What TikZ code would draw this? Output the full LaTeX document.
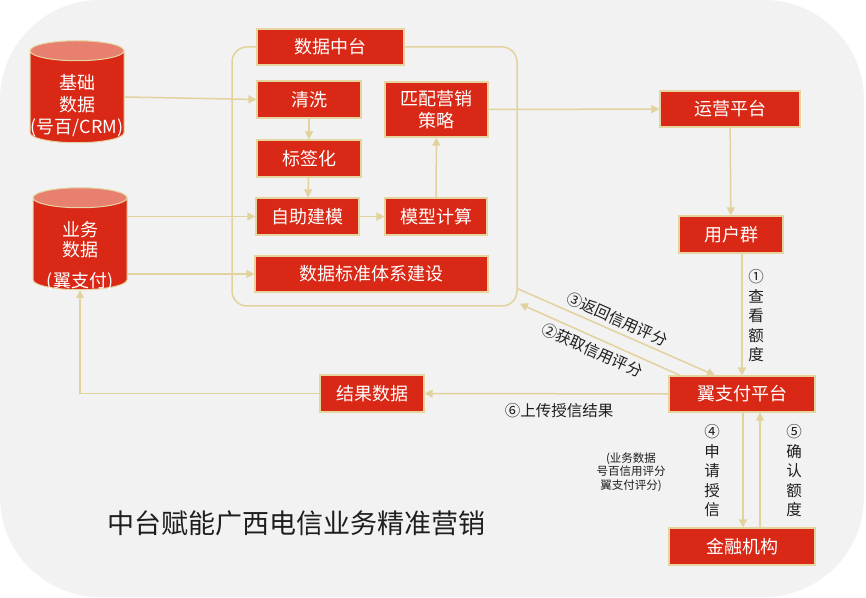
\documentclass[tikz,border=0pt]{standalone}
\usepackage{fontspec}
\setmainfont{Noto Sans CJK SC}
\usetikzlibrary{shapes.geometric,arrows.meta}
\definecolor{hong}{RGB}{218,40,22}
\definecolor{dinggai}{RGB}{232,128,112}
\definecolor{biankuang}{RGB}{230,212,160}
\definecolor{xian}{RGB}{226,210,158}
\definecolor{beijing}{RGB}{242,242,242}
\definecolor{zi}{RGB}{30,30,30}

\begin{document}
\begin{tikzpicture}[x=1pt, y=1pt, block/.style = {rectangle, draw=biankuang, line width=1.2pt, fill=hong, text=white, align=center, inner sep=0pt, font=\fontsize{18}{22}\selectfont}, cyl/.style = {cylinder, shape border rotate=90, aspect=0.25, draw=biankuang, line width=1pt, cylinder uses custom fill, cylinder body fill=hong, cylinder end fill=dinggai, minimum width=94pt, minimum height=102pt, inner sep=0pt}, cyltx/.style = {text=white, align=center, inner sep=0pt, font=\fontsize{18}{22}\selectfont}, arr/.style = {draw=xian, line width=1.5pt, -{Triangle[length=8pt,width=8pt]}}, tx/.style = {text=zi, align=center, inner sep=0pt, font=\fontsize{15.5}{19.5}\selectfont}]
        \useasboundingbox (0, 0) rectangle (866, 597);
        \fill[beijing, rounded corners=100pt] (0, 0) rectangle (864, 597);

        % data platform frame
        \draw (374.5, 420.5) node[draw=xian, line width=1.5pt, rounded corners=15pt, minimum width=285pt, minimum height=259pt] (box) {};

        \draw (330.5, 550) node[block, minimum width=147pt, minimum height=36pt] (zhongtai) {数据中台};
        \draw (309, 497.5) node[block, minimum width=104pt, minimum height=37pt] (qingxi) {清洗};
        \draw (309, 438.5) node[block, minimum width=104pt, minimum height=37pt] (biaoqian) {标签化};
        \draw (307.5, 380.5) node[block, minimum width=103pt, minimum height=37pt] (zizhu) {自助建模};
        \draw (436.5, 487.5) node[block, minimum width=103pt, minimum height=55pt] (pipei) {匹配营销\\策略};
        \draw (436, 380.5) node[block, minimum width=102pt, minimum height=37pt] (moxing) {模型计算};
        \draw (371.5, 323) node[block, minimum width=233pt, minimum height=36pt] (biaozhun) {数据标准体系建设};

        % databases, text set apart so it can sit low in the body
        \draw (77, 500) node[cyl] (jichu) {\phantom{\rule{80pt}{60pt}}};
        \draw (77, 491) node[cyltx] (jichutx) {基础\\数据\\(号百/CRM)};
        \draw (80, 353) node[cyl] (yewu) {\phantom{\rule{80pt}{60pt}}};
        \draw (80, 341) node[cyltx] (yewutx) {业务\\[-2pt]数据\\[9pt](翼支付)};

        \draw (730, 488) node[block, minimum width=140pt, minimum height=36pt] (yunying) {运营平台};
        \draw (731, 362.5) node[block, minimum width=104pt, minimum height=37pt] (yonghu) {用户群};
        \draw (742, 203) node[block, minimum width=146pt, minimum height=36pt] (yizhifu) {翼支付平台};
        \draw (742, 50.5) node[block, minimum width=146pt, minimum height=37pt] (jinrong) {金融机构};
        \draw (372, 203.5) node[block, minimum width=104pt, minimum height=37pt] (jieguo) {结果数据};

        \draw[arr] (jichu.east) -- (qingxi.west);
        \draw[arr] (yewu.east |- zizhu.west) -- (zizhu.west);
        \draw[arr] (yewu.east |- biaozhun.west) -- (biaozhun.west);
        \draw[arr] (qingxi) -- (biaoqian);
        \draw[arr] (biaoqian) -- (zizhu);
        \draw[arr] (zizhu) -- (moxing);
        \draw[arr] (moxing) -- (pipei);
        \draw[arr] (pipei) -- (yunying);
        \draw[arr] (yunying) -- (yonghu);
        \draw[arr] (yizhifu.north |- yonghu.south) -- (yizhifu.north);
        \draw[arr] ([yshift=18pt]box.south east) -- ([xshift=-27pt]yizhifu.north);
        \draw[arr] ([xshift=-62pt]yizhifu.north) -- ([shift={(2pt,3pt)}]box.south east);
        \draw[arr] (yizhifu) -- (jieguo);
        \draw[arr] (jieguo.west) -| (yewu.south);
        \draw[arr] ([xshift=1pt]yizhifu.south) -- ([xshift=1pt]jinrong.north);
        \draw[arr] ([xshift=18pt]jinrong.north) -- ([xshift=18pt]yizhifu.south);

        \draw (756, 281) node[tx] (chakan) {①\\查\\看\\额\\度};
        \draw (617, 278) node[tx, rotate=-24] (fanhui) {③返回信用评分};
        \draw (592, 247) node[tx, rotate=-24] (huoqu) {②获取信用评分};
        \draw (559, 186) node[tx] (shangchuan) {⑥上传授信结果};
        \draw (712, 126) node[tx] (shenqing) {④\\申\\请\\授\\信};
        \draw (794, 126) node[tx] (queren) {⑤\\确\\认\\额\\度};
        \draw (631, 125) node[tx, font=\fontsize{11.5}{13.5}\selectfont] (beizhu) {(业务数据\\号百信用评分\\翼支付评分)};
        \draw (296, 73.5) node[tx, font=\fontsize{27}{30}\selectfont] (biaoti) {中台赋能广西电信业务精准营销};
      \end{tikzpicture}
\end{document}
